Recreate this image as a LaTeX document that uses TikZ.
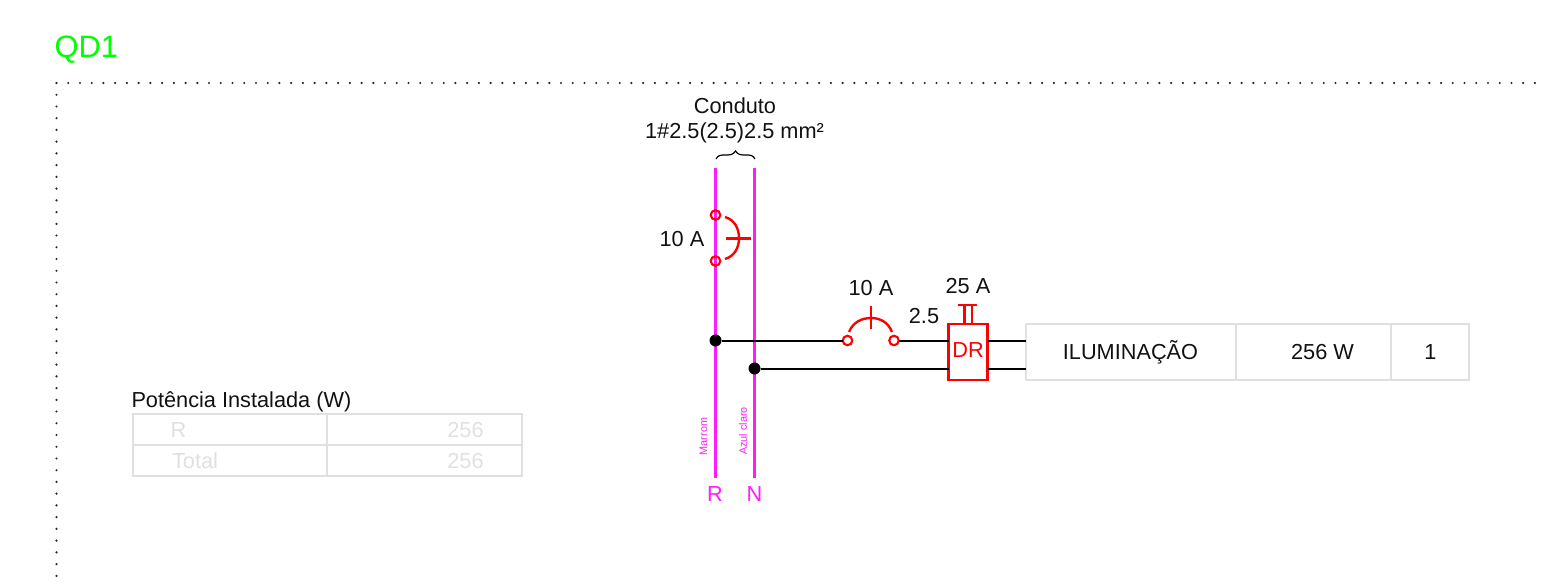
\documentclass[tikz,border=0pt]{standalone}
\usepackage{fontspec}
\setmainfont{Liberation Sans}
\usetikzlibrary{calc}
\definecolor{mag}{HTML}{FF1CFF}
\definecolor{rd}{HTML}{FF0000}
\definecolor{grn}{HTML}{00FF00}
\definecolor{grd}{HTML}{E0E0E0}
\definecolor{ink}{HTML}{111111}
\tikzset{
  x=0.75pt,y=-0.75pt,
  lbl/.style={inner sep=0pt,outer sep=0pt,font=\fontsize{16.3pt}{18pt}\selectfont,text=ink},
  lbldim/.style={lbl,text=grd},
  lblred/.style={lbl,text=rd},
  lblmag/.style={lbl,text=mag},
  tiny/.style={inner sep=0pt,outer sep=0pt,font=\fontsize{8.1pt}{9pt}\selectfont,text=mag,rotate=90},
  bus/.style={draw=mag,line width=2.05pt},
  wire/.style={draw=black,line width=1.5pt},
  redl/.style={draw=rd,line width=1.8pt},
  term/.style={circle,draw=rd,line width=1.6pt,minimum size=9.5pt*0.75,inner sep=0pt,outer sep=0pt},
  junc/.style={circle,fill=black,minimum size=12pt*0.75,inner sep=0pt,outer sep=0pt},
  cell/.style={draw=grd,line width=1.15pt},
  dots/.style={draw=black!85,line width=1.8pt,line cap=round,dash pattern=on 0pt off 8.8pt},
}
\begin{document}
\begin{tikzpicture}
\useasboundingbox (0,0) rectangle (1545,585);
% title and frame
\node[lbl,text=grn,font=\fontsize{23.2pt}{28pt}\selectfont,anchor=west] (title) at (54.5,50) {QD1};
\coordinate (fo) at (56.5,83);
\coordinate (fr) at (1541,83);
\coordinate (fb) at (56.5,585);
\draw[dots] (fo) -- (fr);
\draw[dots] (fo) -- (fb);
% buses
\coordinate (Rtop) at (715.5,168);
\coordinate (Rbot) at (715.5,478);
\coordinate (Ntop) at (754.5,168);
\coordinate (Nbot) at (754.5,478);
\draw[bus] (Rtop) -- (Rbot);
\draw[bus] (Ntop) -- (Nbot);
% conduit labels
\node[lbl] (cond) at (735,106) {Conduto};
\node[lbl] (sect) at (734.5,133) {1\#2.5(2.5)2.5 mm²};
\coordinate (bl) at (716,159);
\coordinate (br) at (755,159);
\coordinate (bt) at (735.5,151);
\draw[black,line width=0.9pt] (bl) .. controls (718,155) and (721,155) .. (725,155)
  .. controls (730,155) and (733,155) .. (bt)
  .. controls (738,155) and (741,155) .. (746,155)
  .. controls (750,155) and (753,155) .. (br);
% main breaker
\node[term] (t1) at (715.5,215) {};
\node[term] (t2) at (715.5,261) {};
\coordinate (a1) at (725,217);
\coordinate (a2) at (725,259);
\coordinate (bk1) at (726,238.5);
\coordinate (bk2) at (751,238.5);
\draw[redl] (a1) .. controls (735,220) and (739,229) .. (739,238)
  .. controls (739,247) and (735,256) .. (a2);
\draw[redl] (bk1) -- (bk2);
\node[lbl] (mb) at (682,239.5) {10 A};
% junctions
\node[junc] (j1) at (715.5,340.5) {};
\node[junc] (j2) at (754.5,368.5) {};
% branch breaker
\node[term] (t3) at (847.5,340.5) {};
\node[term] (t4) at (894,340.5) {};
\draw[redl] (849,332) .. controls (853,322) and (862,318) .. (871,318)
  .. controls (880,318) and (888,322) .. (892,332);
\coordinate (tk1) at (871,306);
\coordinate (tk2) at (871,329);
\draw[redl] (tk1) -- (tk2);
\node[lbl] (bb) at (871,288.5) {10 A};
\node[lbl] (sz) at (924,316.5) {2.5};
% DR
\node[draw=rd,line width=1.8pt,minimum width=39pt*0.75,minimum height=56pt*0.75,inner sep=0pt,outer sep=0pt] (dr) at (968,352) {};
\node[lblred] (drt) at (968,350.5) {DR};
\node[lbl] (da) at (968,286.5) {25 A};
\coordinate (d1) at (964.5,324);
\coordinate (d2) at (972,324);
\coordinate (d1t) at (964.5,305);
\coordinate (d2t) at (972,305);
\coordinate (dl) at (958,305);
\coordinate (dr2) at (977,305);
\draw[redl] (d1) -- (d1t) (d2) -- (d2t) (dl) -- (dr2);
% circuit table
\node[cell,minimum width=210pt*0.75,minimum height=56pt*0.75,inner sep=0pt,outer sep=0pt] (c1) at (1131,352) {};
\node[cell,minimum width=155pt*0.75,minimum height=56pt*0.75,inner sep=0pt,outer sep=0pt] (c2) at (1313.5,352) {};
\node[cell,minimum width=78pt*0.75,minimum height=56pt*0.75,inner sep=0pt,outer sep=0pt] (c3) at (1430,352) {};
\node[lbl] (c1t) at (1130.5,352) {ILUMINAÇÃO};
\node[lbl] (c2t) at (1322.5,352) {256 W};
\node[lbl] (c3t) at (1430.5,352.5) {1};
% wires
\draw[wire] (j1) -- (t3);
\draw[wire] (t4) -- (t4-|dr.west);
\draw[wire] (j2) -- (j2-|dr.west);
\draw[wire] (dr.east|-j1) -- (c1.west|-j1);
\draw[wire] (dr.east|-j2) -- (c1.west|-j2);
% phase labels
\node[lblmag] (lr) at (715,494.5) {R};
\node[lblmag] (ln) at (754.5,494.5) {N};
\node[tiny] (ma) at (703.5,436.5) {Marrom};
\node[tiny] (az) at (743,431) {Azul claro};
% power table
\node[lbl,anchor=west] (pt) at (131.5,401.5) {Potência Instalada (W)};
\node[cell,minimum width=194pt*0.75,minimum height=31pt*0.75,inner sep=0pt,outer sep=0pt] (p1) at (230,429.5) {};
\node[cell,minimum width=195pt*0.75,minimum height=31pt*0.75,inner sep=0pt,outer sep=0pt] (p2) at (424.5,429.5) {};
\node[cell,minimum width=194pt*0.75,minimum height=31pt*0.75,inner sep=0pt,outer sep=0pt] (p3) at (230,460.5) {};
\node[cell,minimum width=195pt*0.75,minimum height=31pt*0.75,inner sep=0pt,outer sep=0pt] (p4) at (424.5,460.5) {};
\node[lbldim] (r1) at (178.5,430) {R};
\node[lbldim] (r2) at (465.5,430) {256};
\node[lbldim] (r3) at (195,461) {Total};
\node[lbldim] (r4) at (465.5,461) {256};
\end{tikzpicture}
\end{document}
